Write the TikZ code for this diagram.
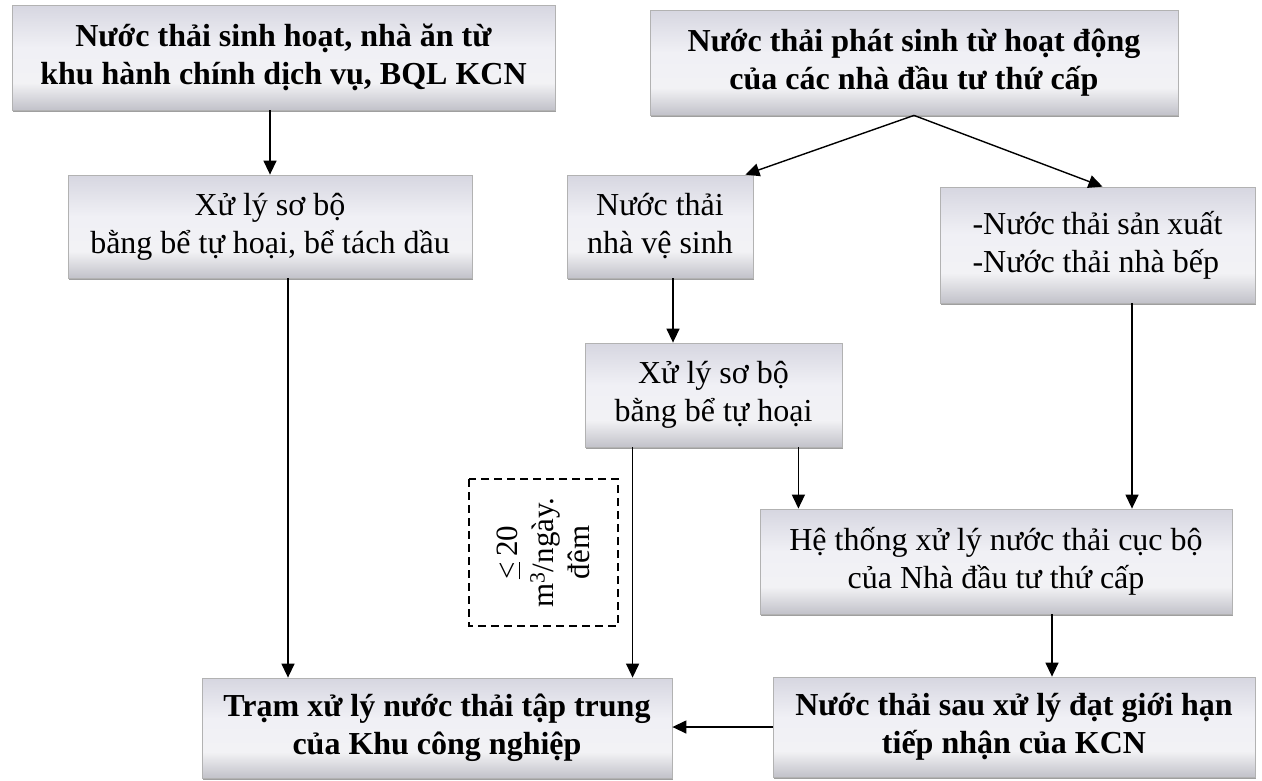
\documentclass[tikz,border=0pt]{standalone}
\usepackage{fontspec}
\setmainfont{Liberation Serif}
\usetikzlibrary{arrows.meta,shadows,calc}
\pgfdeclareverticalshading{boxshade}{100bp}{rgb(0bp)=(0.76,0.76,0.79); rgb(25bp)=(0.76,0.76,0.79); rgb(38bp)=(0.95,0.95,0.96); rgb(55bp)=(0.94,0.94,0.96); rgb(75bp)=(0.84,0.84,0.88); rgb(100bp)=(0.84,0.84,0.88)}
\begin{document}
\begin{tikzpicture}[x=1pt,y=-1pt,
  box/.style={draw=gray!60, line width=0.8pt, shade, shading=boxshade,
    drop shadow={shadow xshift=1.2pt, shadow yshift=-2.4pt, fill=gray!75, opacity=1},
    align=center, inner sep=0pt, font=\fontsize{32}{38}\selectfont},
  boldbox/.style={box, font=\fontsize{32}{38}\selectfont\bfseries},
  arr/.style={line width=1.4pt, -{Triangle[length=14pt,width=13pt]}},
  notebox/.style={draw, dash pattern=on 8pt off 5pt, line width=1.3pt, align=center,
    inner sep=0pt, font=\fontsize{31}{36}\selectfont}
]
\fill[white] (0,0) rectangle (1262,780);

\node[boldbox, minimum width=543, minimum height=105] (A) at (283.5,57.5)
  {Nước thải sinh hoạt, nhà ăn từ\\khu hành chính dịch vụ, BQL KCN};
\node[boldbox, minimum width=528, minimum height=105] (B) at (914,62.5)
  {Nước thải phát sinh từ hoạt động\\của các nhà đầu tư thứ cấp};
\node[box, minimum width=404, minimum height=103] (C) at (270,226.5)
  {Xử lý sơ bộ\\bằng bể tự hoại, bể tách dầu};
\node[box, minimum width=186, minimum height=103] (D) at (660,226.5)
  {Nước thải\\nhà vệ sinh};
\node[box, align=left, minimum width=315, minimum height=116] (E) at (1097.5,245)
  {\raisebox{7pt}{\parbox{250pt}{\raggedright -Nước thải sản xuất\\-Nước thải nhà bếp}}};
\node[box, minimum width=257, minimum height=104] (F) at (713.5,395)
  {Xử lý sơ bộ\\bằng bể tự hoại};
\node[box, minimum width=472, minimum height=105] (G) at (996,561.5)
  {Hệ thống xử lý nước thải cục bộ\\của Nhà đầu tư thứ cấp};
\node[notebox, rotate=90, minimum width=147, minimum height=149] (L) at (543.5,552.5)
  {\underline{<}\,20\\m\textsuperscript{3}/ngày.\\đêm};
\node[boldbox, minimum width=470, minimum height=100] (H) at (437,728)
  {Trạm xử lý nước thải tập trung\\của Khu công nghiệp};
\node[boldbox, minimum width=482, minimum height=100] (I) at (1014,727)
  {Nước thải sau xử lý đạt giới hạn\\tiếp nhận của KCN};

\coordinate (d1) at ($(D.south)+(13,0)$);
\coordinate (f1) at ($(F.south west)+(48,0)$);
\coordinate (f2) at ($(F.south east)+(-44,0)$);
\coordinate (e1) at ($(E.south)+(34.5,0)$);
\coordinate (g1) at ($(G.south)+(56,0)$);
\coordinate (c1) at ($(C.south)+(18,0)$);
\coordinate (dt) at ($(D.north east)+(-8,0)$);
\coordinate (et) at ($(E.north)+(5,0)$);

\draw[arr] (A.south -| C.north) -- (C.north);
\draw[arr] (B.south) -- (dt);
\draw[arr] (B.south) -- (et);
\draw[arr] (d1) -- (d1 |- F.north);
\draw[arr] (f1) -- (f1 |- H.north);
\draw[arr] (f2) -- (f2 |- G.north);
\draw[arr] (e1) -- (e1 |- G.north);
\draw[arr] (g1) -- (g1 |- I.north);
\draw[arr] (c1) -- (c1 |- H.north);
\draw[arr] (I.west) -- (I.west -| H.east);
\end{tikzpicture}
\end{document}
